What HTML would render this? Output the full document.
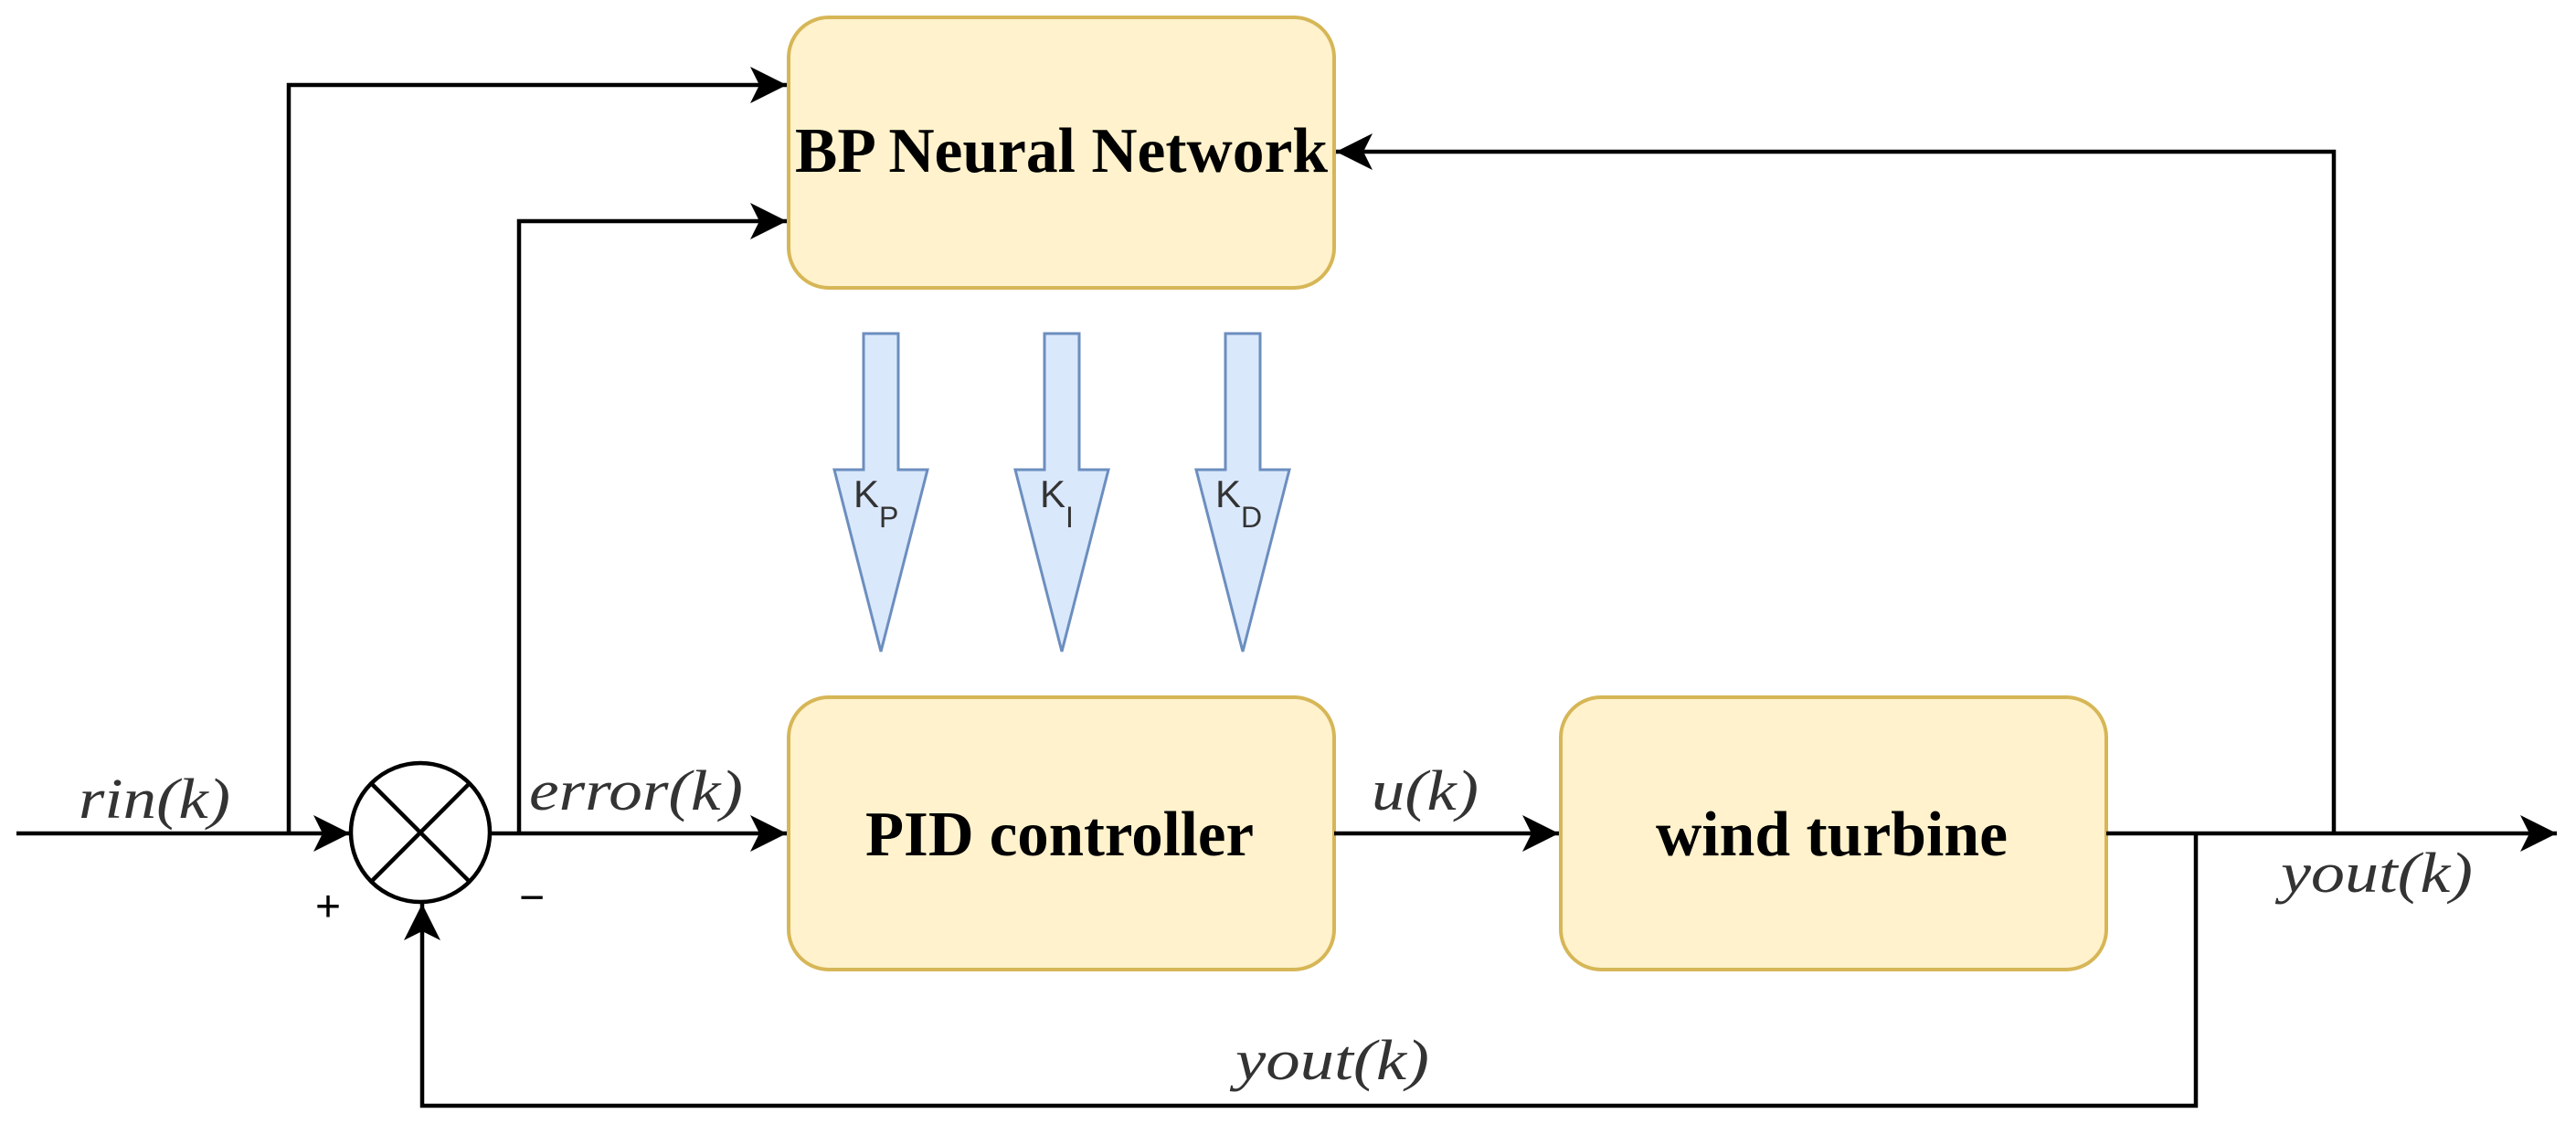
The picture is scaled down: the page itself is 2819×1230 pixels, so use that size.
<!DOCTYPE html>
<html><head><meta charset="utf-8"><style>html,body{margin:0;padding:0;background:#fff}svg{display:block}</style></head>
<body>
<svg width="2819" height="1230" viewBox="0 0 2819 1230" xmlns="http://www.w3.org/2000/svg">
<defs>
<marker id="ar" viewBox="0 0 40 40" refX="40" refY="20" markerWidth="40" markerHeight="40" markerUnits="userSpaceOnUse" orient="auto">
<path d="M0,0 L40,20 L0,40 L10,20 Z" fill="#000"/>
</marker>
</defs>
<g fill="#fff2cc" stroke="#d6b656" stroke-width="4">
<rect x="863" y="19" width="597" height="296" rx="44"/>
<rect x="863" y="763" width="597" height="298" rx="44"/>
<rect x="1708" y="763" width="597" height="298" rx="44"/>
</g>
<g stroke="#000" stroke-width="4.5" fill="none">
<line x1="18" y1="912" x2="383" y2="912" marker-end="url(#ar)"/>
<polyline points="316,912 316,93 861,93" marker-end="url(#ar)"/>
<line x1="536" y1="912" x2="861" y2="912" marker-end="url(#ar)"/>
<polyline points="568,912 568,242 861,242" marker-end="url(#ar)"/>
<line x1="1460" y1="912" x2="1706" y2="912" marker-end="url(#ar)"/>
<line x1="2305" y1="912" x2="2798" y2="912" marker-end="url(#ar)"/>
<polyline points="2554,912 2554,166 1462,166" marker-end="url(#ar)"/>
<polyline points="2403,912 2403,1210 462,1210 462,989" marker-end="url(#ar)"/>
<circle cx="460" cy="911" r="76"/>
<line x1="406" y1="857" x2="514" y2="965"/>
<line x1="514" y1="857" x2="406" y2="965"/>
</g>
<g fill="#dae8fc" stroke="#6c8ebf" stroke-width="3">
<path d="M945,365 L983,365 L983,514 L1015,514 L964,713 L913,514 L945,514 Z"/>
<path d="M1143,365 L1181,365 L1181,514 L1213,514 L1162,713 L1111,514 L1143,514 Z"/>
<path d="M1341,365 L1379,365 L1379,514 L1411,514 L1360,713 L1309,514 L1341,514 Z"/>
</g>
<g font-family="Liberation Sans, sans-serif" fill="#333" font-size="42">
<text x="934" y="555">K<tspan font-size="32" dy="22">P</tspan></text>
<text x="1138" y="555">K<tspan font-size="32" dy="22">I</tspan></text>
<text x="1330" y="555">K<tspan font-size="32" dy="22">D</tspan></text>
</g>
<g font-family="Liberation Serif, serif" font-weight="bold" font-size="70" fill="#000">
<text x="870" y="188" textLength="583" lengthAdjust="spacingAndGlyphs">BP Neural Network</text>
<text x="947" y="936" textLength="425" lengthAdjust="spacingAndGlyphs">PID controller</text>
<text x="1812" y="936" textLength="385" lengthAdjust="spacingAndGlyphs">wind turbine</text>
</g>
<g font-family="Liberation Serif, serif" font-style="italic" font-size="62" fill="#333">
<text x="86" y="895" textLength="166" lengthAdjust="spacingAndGlyphs">rin(k)</text>
<text x="579" y="886" textLength="234" lengthAdjust="spacingAndGlyphs">error(k)</text>
<text x="1501" y="886" textLength="117" lengthAdjust="spacingAndGlyphs">u(k)</text>
<text x="2496" y="976" textLength="210" lengthAdjust="spacingAndGlyphs">yout(k)</text>
<text x="1352" y="1181" textLength="212" lengthAdjust="spacingAndGlyphs">yout(k)</text>
</g>
<g font-family="Liberation Sans, sans-serif" font-size="48" fill="#000">
<text x="345" y="1008">+</text>
<text x="568" y="998">−</text>
</g>
</svg>
</body></html>
